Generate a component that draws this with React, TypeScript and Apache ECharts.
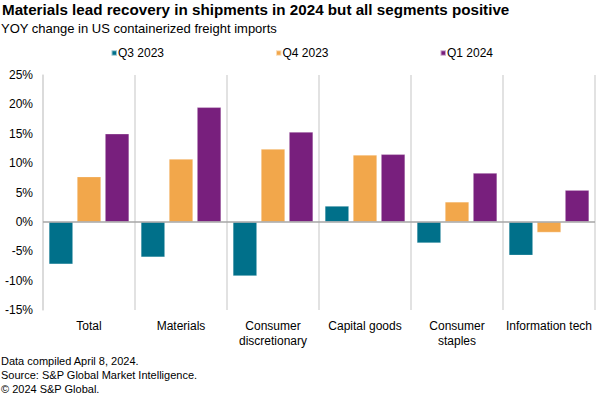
import React, { useEffect, useRef } from "react";
import * as echarts from "echarts";

const categories = ["Total", "Materials", "Consumer\ndiscretionary", "Capital goods", "Consumer\nstaples", "Information tech"];
const seriesNames = ["Q3 2023", "Q4 2023", "Q1 2024"];
const q3_2023 = [-7.2, -6.0, -9.2, 2.7, -3.6, -5.7];
const q4_2023 = [7.7, 10.7, 12.4, 11.4, 3.4, -1.8];
const q1_2024 = [15.0, 19.5, 15.3, 11.5, 8.3, 5.4];
const colors = ["#00708A", "#F2A74B", "#781F7D"];
const footnotes = ["Data compiled April 8, 2024.", "Source: S&P Global Market Intelligence.", "© 2024 S&P Global."];

const FONT = "Liberation Sans, Arial, sans-serif";

export default function App() {
  const ref = useRef<HTMLDivElement>(null);
  useEffect(() => {
    document.body.style.margin = "0";
    const chart = echarts.init(ref.current!, null, { renderer: "svg" });
    const data = [q3_2023, q4_2023, q1_2024];
    const legendLefts = [110.5, 275, 439.5];
    chart.setOption({
      animation: false,
      textStyle: { fontFamily: FONT },
      title: [
        { text: "Materials lead recovery in shipments in 2024 but all segments positive", left: 2, top: 2, padding: 0,
          textStyle: { fontFamily: FONT, fontSize: 15.2, fontWeight: "bold", color: "#000" } },
        { text: "YOY change in US containerized freight imports", left: 1, top: 22, padding: 0,
          textStyle: { fontFamily: FONT, fontSize: 13, fontWeight: "normal", color: "#000" } },
      ],
      legend: seriesNames.map((n, i) => ({
        data: [n], left: legendLefts[i], top: 47, padding: 0, itemWidth: 5.5, itemHeight: 5.5, itemGap: 0,
        icon: "rect", textStyle: { fontFamily: FONT, fontSize: 12, color: "#000", padding: [0, 0, 0, -4] },
      })),
      graphic: footnotes.map((t, i) => ({
        type: "text", left: 1, top: 355 + i * 14.2,
        style: { text: t, font: `11px ${FONT}`, fill: "#000" },
      })),
      grid: { left: 43, right: 5, top: 75, bottom: 88 },
      xAxis: {
        type: "category", data: categories,
        axisLine: { show: false }, axisTick: { show: false },
        splitLine: { show: true, lineStyle: { color: "#D9D9D9", width: 1.5 } },
        axisLabel: { fontSize: 12, color: "#000", margin: 9, lineHeight: 14.5, interval: 0 },
      },
      yAxis: {
        type: "value", min: -15, max: 25, interval: 5,
        axisLine: { show: true, lineStyle: { color: "#D9D9D9", width: 1.5 } },
        axisTick: { show: false }, splitLine: { show: false },
        axisLabel: { formatter: "{value}%", fontSize: 12, color: "#000", margin: 10 },
      },
      series: seriesNames.map((n, i) => ({
        type: "bar", name: n, data: data[i], barWidth: 24, barGap: "17%",
        itemStyle: { color: colors[i], borderColor: "rgba(255,255,255,0.6)", borderWidth: 0.5 },
        markLine: i === 0 ? {
          silent: true, symbol: "none", label: { show: false },
          lineStyle: { color: "#A6A6A6", width: 1.5, type: "solid" },
          data: [{ yAxis: 0 }],
        } : undefined,
      })),
    });
    return () => chart.dispose();
  }, []);
  return <div ref={ref} style={{ position: "absolute", left: 0, top: 0, width: 600, height: 398 }} />;
}
